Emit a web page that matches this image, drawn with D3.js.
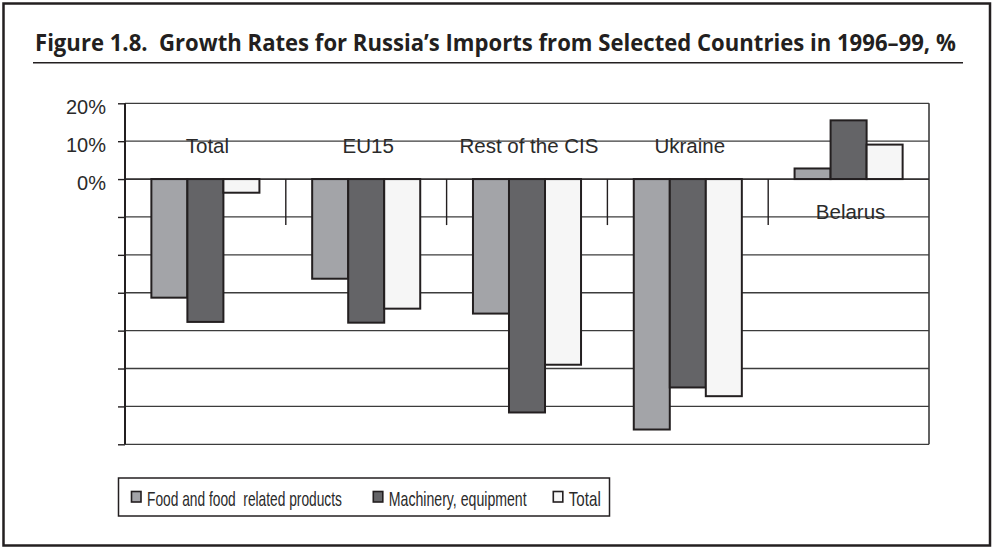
<!DOCTYPE html>
<html>
<head>
<meta charset="utf-8">
<script src="https://cdn.jsdelivr.net/npm/d3@7"></script>
<style>
  html, body { margin: 0; padding: 0; background: #fff; }
  svg { display: block; }
  text { white-space: pre; }
</style>
</head>
<body>
<svg id="chart" width="992" height="547"></svg>
<script>
// Growth of Russia's imports by partner, 1996–99 (%)
const categories = ["Total", "EU15", "Rest of the CIS", "Ukraine", "Belarus"];
const seriesNames = ["Food and food  related products", "Machinery, equipment", "Total"];
const food      = [-31.3, -26.3, -35.5, -66.1, 2.8];
const machinery = [-37.7, -37.9, -61.6, -55.0, 15.5];
const total     = [-3.6, -34.2, -49.0, -57.3, 9.1];
const tickValues = [-70, -60, -50, -40, -30, -20, -10, 0, 10, 20];
const tickLabels = ["", "", "", "", "", "", "", "0%", "10%", "20%"];

const seriesValues = [food, machinery, total];
const colors = ["#a3a4a8", "#646467", "#f6f6f6"];
const ink = "#231f20";

const svg = d3.select("#chart");
const W = 992, H = 547;

// squeeze a text horizontally so it spans the given width
function condense(sel, x0, y0, width) {
  const natural = sel.node().getComputedTextLength();
  sel.attr("x", 0).attr("y", 0)
     .attr("transform", `translate(${x0},${y0}) scale(${width / natural},1)`);
}

// outer frame
svg.append("rect")
  .attr("x", 3.5).attr("y", 3.5)
  .attr("width", W - 5.5).attr("height", H - 5)
  .attr("fill", "#fff").attr("stroke", ink).attr("stroke-width", 2.5);

// title + rule
const title = svg.append("text")
  .attr("font-family", "'Open Sans', 'Noto Sans', sans-serif")
  .attr("font-weight", 700).attr("font-size", 22.5)
  .attr("fill", ink)
  .text("Figure 1.8.  Growth Rates for Russia\u2019s Imports from Selected Countries in 1996\u201399, %");
condense(title, 35, 50.5, 921);
svg.append("line")
  .attr("x1", 33).attr("x2", 963).attr("y1", 62.7).attr("y2", 62.7)
  .attr("stroke", ink).attr("stroke-width", 1.5);

// plot area
const plotLeft = 125, plotRight = 929, plotTop = 103.3, plotBottom = 444.3;
const x = d3.scaleBand().domain(categories).range([plotLeft, plotRight]).padding(0);
const y = d3.scaleLinear().domain([-70, 20]).range([plotBottom, plotTop]);
const groupW = x.bandwidth() * 0.672;
const xs = d3.scaleBand().domain(d3.range(seriesNames.length)).range([0, groupW]).padding(0);

const g = svg.append("g");

// gridlines
g.selectAll("line.grid").data(tickValues).join("line")
  .attr("class", "grid")
  .attr("x1", plotLeft).attr("x2", plotRight)
  .attr("y1", d => y(d)).attr("y2", d => y(d))
  .attr("stroke", "#3c3c3c").attr("stroke-width", 1.3);

// right border of plot area
g.append("line")
  .attr("x1", plotRight).attr("x2", plotRight).attr("y1", plotTop).attr("y2", plotBottom)
  .attr("stroke", "#3c3c3c").attr("stroke-width", 1.6);

// category labels, placed on the side of the zero line away from the bars
const fontAxis = "'Liberation Sans', Arial, sans-serif";
g.selectAll("text.cat").data(categories).join("text")
  .attr("class", "cat")
  .attr("x", d => x(d) + x.bandwidth() / 2 + 2)
  .attr("y", (d, i) => {
    const s = d3.sum(seriesValues, v => v[i]);
    return s < 0 ? y(0) - 26.5 : y(0) + 40.3;
  })
  .attr("text-anchor", "middle")
  .attr("font-family", fontAxis).attr("font-size", 20.5)
  .attr("fill", "#2a2a2a")
  .text(d => d);

// bars
seriesValues.forEach((vals, si) => {
  g.selectAll("rect.s" + si).data(vals).join("rect")
    .attr("class", "s" + si)
    .attr("x", (d, i) => x(categories[i]) + (x.bandwidth() - groupW) / 2 + xs(si))
    .attr("y", d => y(Math.max(0, d)))
    .attr("width", xs.bandwidth())
    .attr("height", d => Math.abs(y(d) - y(0)))
    .attr("fill", colors[si])
    .attr("stroke", ink).attr("stroke-width", 2);
});

// category axis on the zero line with separator ticks
const catAxis = g.append("g").attr("transform", `translate(0,${y(0)})`);
catAxis.append("line")
  .attr("x1", plotLeft).attr("x2", plotRight).attr("y1", 0).attr("y2", 0)
  .attr("stroke", ink).attr("stroke-width", 1.4);
catAxis.selectAll("line.sep").data(categories.slice(1)).join("line")
  .attr("class", "sep")
  .attr("x1", d => x(d)).attr("x2", d => x(d))
  .attr("y1", 0).attr("y2", 46)
  .attr("stroke", ink).attr("stroke-width", 1.4);

// value axis
const yAxis = d3.axisLeft(y)
  .tickValues(tickValues)
  .tickFormat((d, i) => tickLabels[i])
  .tickSize(7).tickPadding(12);
const ya = g.append("g").attr("transform", `translate(${plotLeft},0)`).call(yAxis);
ya.select(".domain").attr("stroke", ink).attr("stroke-width", 2).attr("d", `M0,${plotTop}V${plotBottom}`);
ya.selectAll(".tick line").attr("stroke", ink).attr("stroke-width", 1.4);
ya.selectAll(".tick text")
  .attr("font-family", fontAxis).attr("font-size", 20)
  .attr("fill", "#2a2a2a").attr("dy", "0.5em");

// legend
const leg = svg.append("g");
leg.append("rect")
  .attr("x", 118.5).attr("y", 478).attr("width", 491).attr("height", 38)
  .attr("fill", "#fff").attr("stroke", ink).attr("stroke-width", 1.5);
const legX = [131.5, 373.3, 553.3];
const legW = [195, 138, 32];
seriesNames.forEach((name, i) => {
  leg.append("rect")
    .attr("x", legX[i]).attr("y", 491.5).attr("width", 9.5).attr("height", 10.5)
    .attr("fill", colors[i]).attr("stroke", ink).attr("stroke-width", 1.6);
  const t = leg.append("text")
    .attr("font-family", fontAxis)
    .attr("font-size", 20)
    .attr("fill", "#2a2a2a")
    .text(name);
  condense(t, legX[i] + 15.5, 506, legW[i]);
});
</script>
</body>
</html>
